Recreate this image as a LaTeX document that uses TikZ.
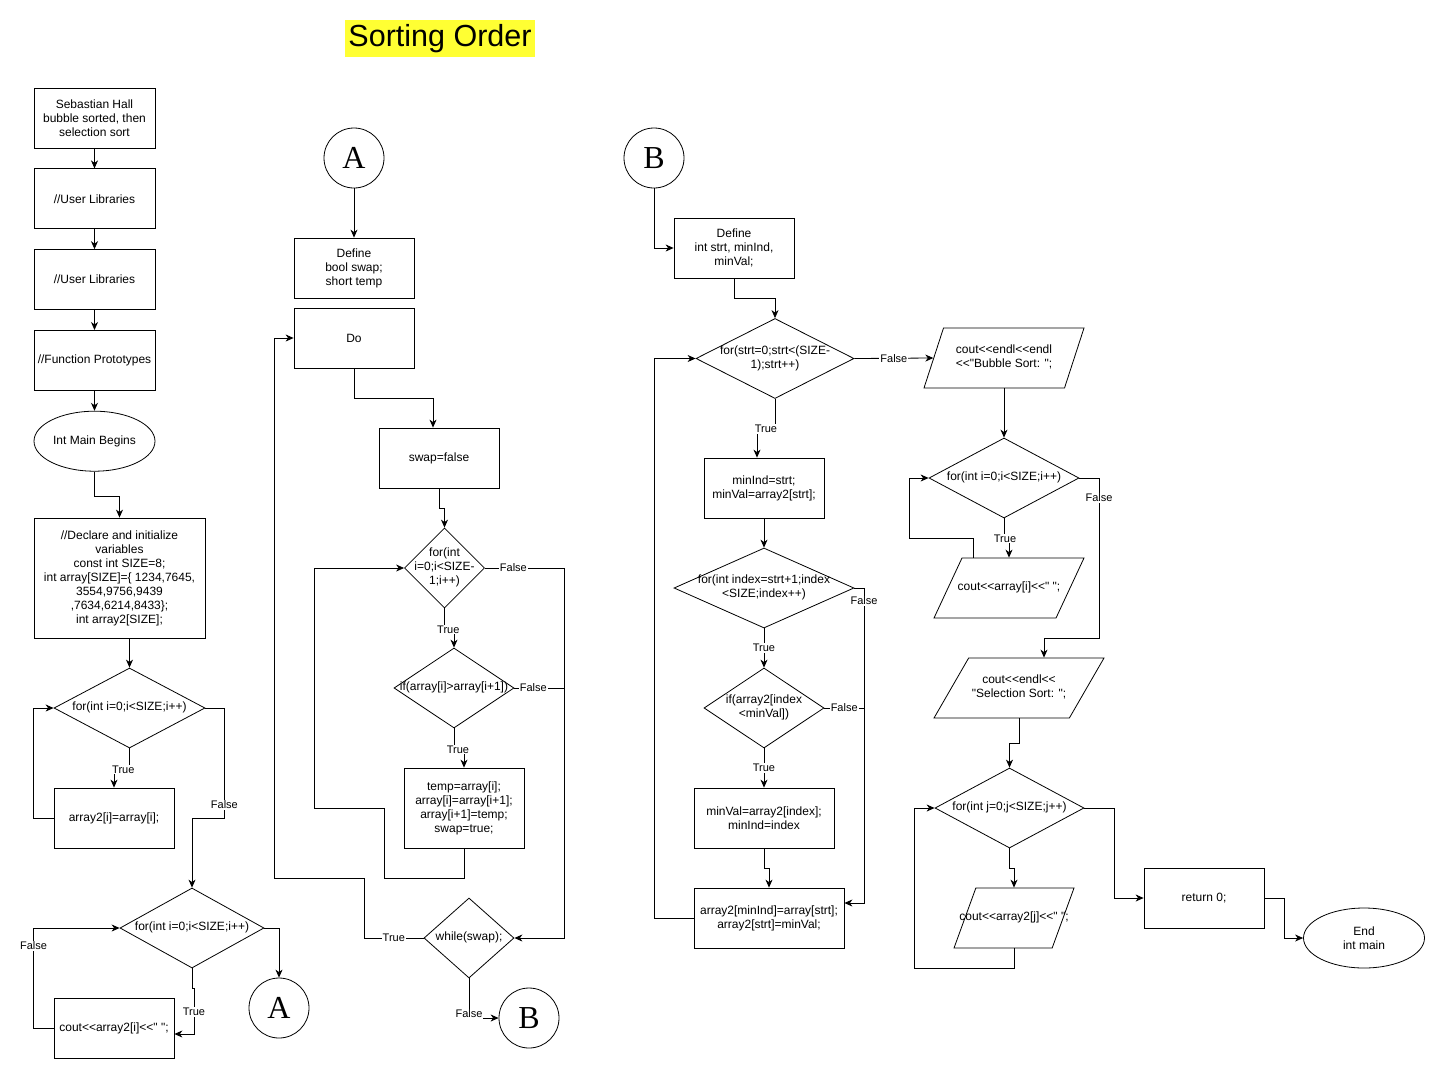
\documentclass[tikz,border=0pt]{standalone}
\usepackage{fontspec}
\newfontfamily\chartfont{Liberation Sans}
\newfontfamily\jumpfont{Liberation Serif}
\usetikzlibrary{arrows.meta,positioning,shapes.geometric}
\definecolor{titleyellow}{RGB}{255,255,51}
\newcommand\squeezed[1]{\makebox[0pt]{\begin{tabular}{@{}c@{}}#1\end{tabular}}}

\begin{document}
\begin{tikzpicture}[
      x=1pt, y=-1pt,
      line width=.8pt,
      every node/.style = {font=\chartfont\fontsize{12}{14}\selectfont},
      process/.style = {
        rectangle, draw=black, fill=white, align=center,
        minimum width=120pt, minimum height=60pt,
      },
      terminal/.style = {
        ellipse, draw=black, fill=white, align=center, inner sep=0pt,
        minimum width=121pt, minimum height=60pt,
      },
      decision/.style = {
        diamond, draw=black, fill=white, inner sep=0pt,
        minimum width=#1, minimum height=80pt,
      },
      io/.style n args = {3}{
        trapezium, draw=black, fill=white, inner sep=0pt,
        text height=33pt, text depth=27pt,
        trapezium left angle=#2, trapezium right angle=#3,
        trapezium stretches body, minimum width=#1,
      },
      jump/.style = {
        circle, draw=black, fill=white, minimum size=60pt, inner sep=0pt,
        font=\jumpfont\fontsize{32}{32}\selectfont,
      },
      flow/.style = {
        black, line width=.8pt, -{Stealth[length=8pt,width=7pt,inset=2.5pt]},
      },
      lbl/.style = {
        fill=white, inner sep=1pt, font=\chartfont\fontsize{11}{12}\selectfont,
      },
    ]
    \path[use as bounding box, fill=white] (0,0) rectangle (1445,1079);
    \node[fill=titleyellow, inner xsep=3pt, inner ysep=0pt, minimum height=37pt,
      font=\chartfont\fontsize{30.5}{31}\selectfont] (Title) at (440,38.5) {Sorting Order};

    % main, first column
    \node[process, minimum width=121pt] (Start) at (94.5,118) {Sebastian Hall\\ bubble sorted, then\\ selection sort};
    \node[process, minimum width=121pt, below=20pt of Start] (UserLibA) {//User Libraries};
    \node[process, minimum width=121pt, below=20pt of UserLibA] (UserLibB) {//User Libraries};
    \node[process, minimum width=121pt, below=20pt of UserLibB] (Protos) {//Function Prototypes};
    \node[terminal, below=20pt of Protos] (MainBegins) {Int Main Begins};
    \node[process, minimum width=171pt, minimum height=120pt] (Declare) at (119.5,578)
      {//Declare and initialize\\ variables\\ const int SIZE=8;\\ int array[SIZE]=\{ 1234,7645,\\ 3554,9756,9439\\ ,7634,6214,8433\};\\ int array2[SIZE];};
    \node[decision=151pt] (CopyLoop) at (129.5,708) {\squeezed{for(int i=0;i<SIZE;i++)}};
    \node[process] (CopyBody) at (114,818) {array2[i]=array[i];};
    \node[decision=144pt] (PrintLoop) at (192,928) {\squeezed{for(int i=0;i<SIZE;i++)}};
    \node[process] (PrintBody) at (114,1028) {cout<<array2[i]<<" ";};
    \node[jump] (JumpA) at (279,1008) {A};

    \draw[flow] (Start) -- (UserLibA);
    \draw[flow] (UserLibA) -- (UserLibB);
    \draw[flow] (UserLibB) -- (Protos);
    \draw[flow] (Protos) -- (MainBegins);
    \draw[flow] (MainBegins.south) -- ++(0,25) -| (Declare.north);
    \draw[flow] (Declare.south -| CopyLoop.north) -- (CopyLoop.north);
    \draw[flow] (CopyLoop.south) -- ++(0,21) -| node[lbl,pos=.2]{True} (CopyBody.north);
    \draw[flow] (CopyBody.west) -- ++(-20,0) |- (CopyLoop.west);
    \draw[flow] (CopyLoop.east) -- ++(19,0) -- ++(0,110) node[lbl,pos=.88]{False} -| (PrintLoop.north);
    \draw[flow] (PrintLoop.south) -- ++(0,20) -- ++(2,0) |- node[lbl,pos=.26]{True} ([yshift=-6pt]PrintBody.east);
    \draw[flow] (PrintBody.west) -- ++(-20,0) |- node[lbl,pos=.41]{False} (PrintLoop.west);
    \draw[flow] (PrintLoop.east) -| (JumpA.north);

    % bubble sort
    \node[jump] (JumpA2) at (354,158) {A};
    \node[process] (DefSwap) at (354,268) {Define\\ bool swap;\\ short temp};
    \node[process] (DoBox) at (354,338) {Do};
    \node[process] (SwapFalse) at (439,458) {swap=false};
    \node[decision=80pt] (InnerLoop) at (444.5,568) {\squeezed{for(int\\ i=0;i<SIZE-\\ 1;i++)}};
    \node[decision=120pt] (IfSwap) at (454,688) {\squeezed{if(array[i]>array[i+1])}};
    \node[process, minimum height=80pt] (SwapBody) at (464,808)
      {temp=array[i];\\ array[i]=array[i+1];\\ array[i+1]=temp;\\ swap=true;};
    \node[decision=90pt] (WhileSwap) at (469,938) {\squeezed{while(swap);}};
    \node[jump] (JumpB) at (529,1018) {B};

    \draw[flow] (JumpA2) -- (DefSwap);
    \draw[flow] (DoBox.south) -- ++(0,30) -| ([xshift=-6pt]SwapFalse.north);
    \draw[flow] (SwapFalse.south) -- ++(0,20) -| (InnerLoop.north);
    \draw[flow] (InnerLoop.south) -- ++(0,21) -| node[lbl,pos=.2]{True} (IfSwap.north);
    \draw[flow] (IfSwap.south) -- ++(0,21) -| node[lbl,pos=.2]{True} (SwapBody.north);
    \draw[flow] (SwapBody.south) -- ++(0,30) -| (384,808) -- (314,808) |- (InnerLoop.west);
    \draw[flow] (InnerLoop.east) -- node[lbl,pos=.36]{False} (564,568) |- (WhileSwap.east);
    \draw (IfSwap.east) -- node[lbl,pos=.38]{False} (564,688);
    \draw[flow] (WhileSwap.west) -- node[lbl]{True} (364,938) |- (274,878) |- (DoBox.west);
    \draw[flow] (WhileSwap.south) |- node[lbl,pos=.45]{False} (JumpB.west);

    % selection sort
    \node[jump] (JumpB2) at (654,158) {B};
    \node[process] (DefStrt) at (734,248) {Define\\ int strt, minInd,\\ minVal;};
    \node[decision=158pt] (OuterSel) at (775,358.5) {\squeezed{for(strt=0;strt<(SIZE-\\ 1);strt++)}};
    \node[process] (MinInit) at (764,488) {minInd=strt;\\ minVal=array2[strt];};
    \node[decision=180pt] (IndexLoop) at (764,588) {\squeezed{for(int index=strt+1;index\\ <SIZE;index++)}};
    \node[decision=120pt] (IfMin) at (764,708) {\squeezed{if(array2[index\\ <minVal])}};
    \node[process, minimum width=140pt] (MinBody) at (764,818) {minVal=array2[index];\\ minInd=index};
    \node[process, minimum width=150pt] (SwapSel) at (769,918) {array2[minInd]=array[strt];\\ array2[strt]=minVal;};

    \draw[flow] (JumpB2.south) |- (DefStrt.west);
    \draw[flow] (DefStrt.south) -- ++(0,20) -| (OuterSel.north);
    \draw[flow] (OuterSel.south) -- ++(0,30) -| node[lbl,pos=.25]{True} ([xshift=-7pt]MinInit.north);
    \draw[flow] (MinInit) -- (IndexLoop);
    \draw[flow] (IndexLoop) -- node[lbl]{True} (IfMin);
    \draw[flow] (IfMin) -- node[lbl]{True} (MinBody);
    \draw[flow] (MinBody.south) -- ++(0,20) -| (SwapSel.north);
    \draw[flow] (IndexLoop.east) -- (864,588) |- node[lbl,pos=.02]{False} ([yshift=15pt]SwapSel.east);
    \draw (IfMin.east) -- node[lbl]{False} (864,708);
    \draw[flow] (SwapSel.west) -- (654,918) |- (OuterSel.west);

    % printing
    \node[io={160pt}{72}{108}] (BubbleHead) at (1004,358) {\squeezed{cout<<endl<<endl\\ <<"Bubble Sort: ";}};
    \node[decision=150pt] (PrintSortLoop) at (1004,478) {\squeezed{for(int i=0;i<SIZE;i++)}};
    \node[io={150pt}{65}{115}] (PrintSortBody) at (1009,588) {\squeezed{cout<<array[i]<<" ";}};
    \node[io={170pt}{60}{120}] (SelHead) at (1019,688) {\squeezed{cout<<endl<<\\ "Selection Sort: ";}};
    \node[decision=149pt] (PrintSelLoop) at (1009.5,808) {\squeezed{for(int j=0;j<SIZE;j++)}};
    \node[io={120pt}{70}{110}] (PrintSelBody) at (1014,918) {\squeezed{cout<<array2[j]<<" ";}};
    \node[process] (ReturnBox) at (1204,898) {return 0;};
    \node[terminal] (EndMain) at (1364,938) {End\\ int main};

    \draw[flow] (OuterSel.east) -- node[lbl]{False} (BubbleHead.west);
    \draw[flow] (BubbleHead) -- (PrintSortLoop);
    \draw[flow] (PrintSortLoop.south) -- ++(0,20) -| node[lbl,pos=.1]{True} (PrintSortBody.north);
    \draw[flow] ([xshift=-36pt]PrintSortBody.north) |- (909,538) |- (PrintSortLoop.west);
    \draw[flow] (PrintSortLoop.east) -- (1099,478) -- node[lbl,pos=.125]{False} (1099,638) -| ([xshift=25pt]SelHead.north);
    \draw[flow] (SelHead.south) -- ++(0,25) -| (PrintSelLoop.north);
    \draw[flow] (PrintSelLoop.south) -- ++(0,20) -| (PrintSelBody.north);
    \draw[flow] (PrintSelBody.south) -- ++(0,20) -| (914,808) -- (PrintSelLoop.west);
    \draw[flow] (PrintSelLoop.east) -- (1114,808) |- (ReturnBox.west);
    \draw[flow] (ReturnBox.east) -- (1284,898) |- (EndMain.west);
\end{tikzpicture}
\end{document}
